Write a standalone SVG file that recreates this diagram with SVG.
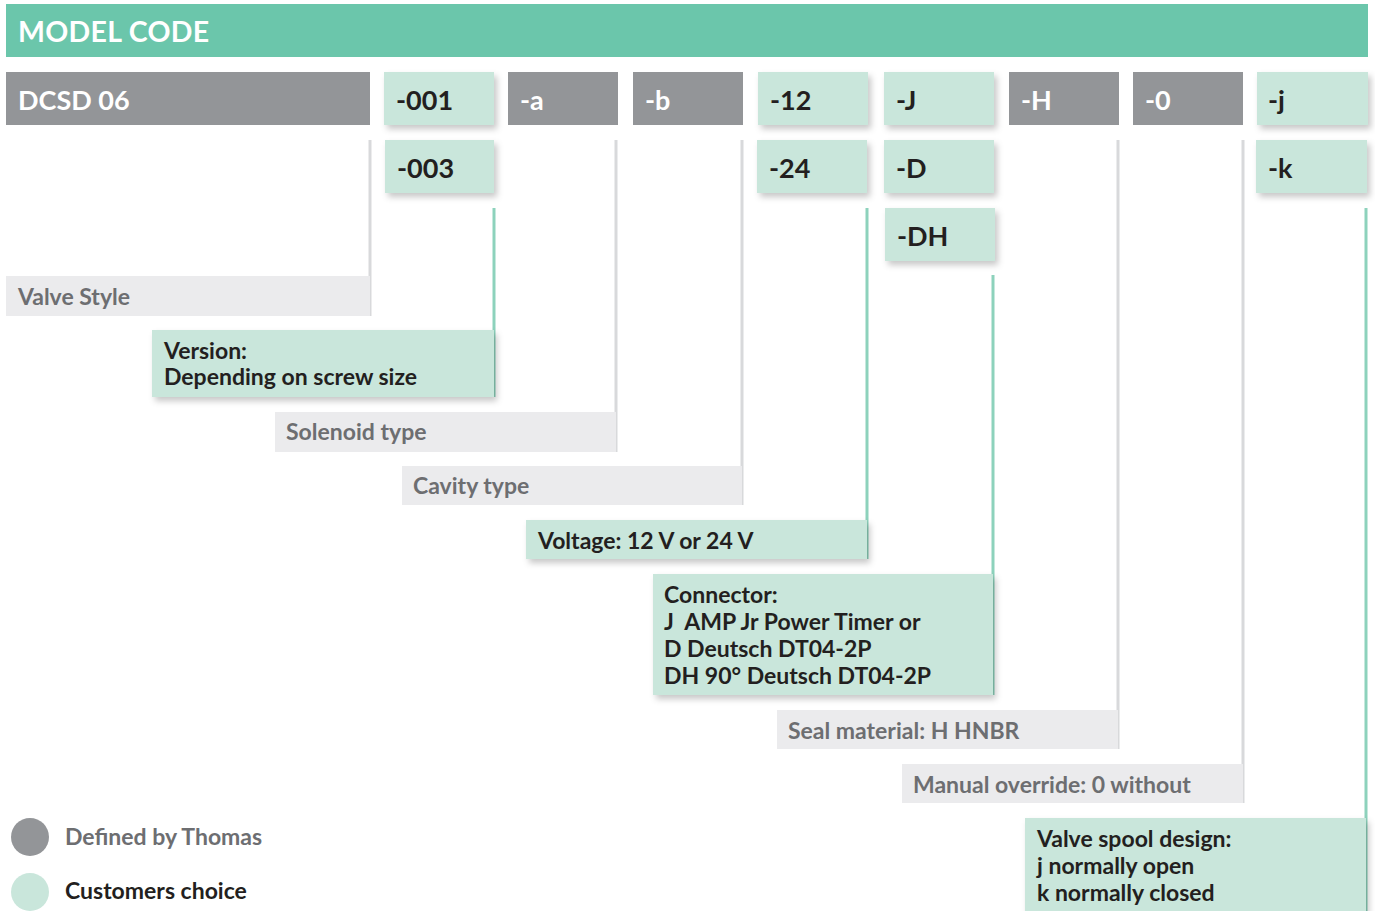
<svg xmlns="http://www.w3.org/2000/svg" width="1375" height="911" viewBox="0 0 1375 911">
<defs>
<filter id="sh" x="-10%" y="-20%" width="130%" height="160%">
<feDropShadow dx="3" dy="4" stdDeviation="3" flood-color="#000" flood-opacity="0.22"/>
</filter>
<style>
text{font-family:Lato,"Open Sans","Liberation Sans",sans-serif}
.hdr{fill:#6bc6ab}
.gbox{fill:#939598}
.cbox{fill:#c9e6db;filter:url(#sh)}
.dbox{fill:#ebebed}
.code{font-size:27px;font-weight:700}
.cw{fill:#ffffff}
.cd{fill:#231f20}
.desc{font-size:23px;font-weight:700}
.dg{fill:#6d6e71}
.dd{fill:#231f20}
.lg{stroke:#d8d9db;stroke-width:3;fill:none}
.lc{stroke:#8dd2bc;stroke-width:3;fill:none}
</style>
</defs>
<g id="header">
<rect class="hdr" x="6" y="4" width="1362" height="53"/>
<text x="18" y="42" fill="#ffffff" font-size="28.5" font-weight="700" letter-spacing="0.3">MODEL CODE</text>
</g>
<g id="connectors">
<line class="lg" x1="370" y1="140" x2="370" y2="316"/>
<line class="lc" x1="494" y1="208" x2="494" y2="397"/>
<line class="lg" x1="616" y1="140" x2="616" y2="452"/>
<line class="lg" x1="742" y1="140" x2="742" y2="505"/>
<line class="lc" x1="867" y1="208" x2="867" y2="559"/>
<line class="lc" x1="993" y1="275" x2="993" y2="695"/>
<line class="lg" x1="1118" y1="140" x2="1118" y2="749"/>
<line class="lg" x1="1243" y1="140" x2="1243" y2="803"/>
<line class="lc" x1="1366" y1="208" x2="1366" y2="911"/>
</g>
<g id="code-dcsd"><rect class="gbox" x="6" y="72" width="364" height="53"/><text class="code cw" x="18" y="110">DCSD 06</text></g>
<g id="code-001"><rect class="cbox" x="384" y="72" width="110" height="53"/><text class="code cd" x="396" y="110">-001</text></g>
<g id="code-003"><rect class="cbox" x="385" y="140" width="109" height="53"/><text class="code cd" x="397" y="178">-003</text></g>
<g id="code-a"><rect class="gbox" x="508" y="72" width="110" height="53"/><text class="code cw" x="520" y="110">-a</text></g>
<g id="code-b"><rect class="gbox" x="633" y="72" width="110" height="53"/><text class="code cw" x="645" y="110">-b</text></g>
<g id="code-12"><rect class="cbox" x="758" y="72" width="110" height="53"/><text class="code cd" x="770" y="110">-12</text></g>
<g id="code-24"><rect class="cbox" x="757" y="140" width="110" height="53"/><text class="code cd" x="769" y="178">-24</text></g>
<g id="code-J"><rect class="cbox" x="884" y="72" width="110" height="53"/><text class="code cd" x="896" y="110">-J</text></g>
<g id="code-D"><rect class="cbox" x="884" y="140" width="110" height="53"/><text class="code cd" x="896" y="178">-D</text></g>
<g id="code-DH"><rect class="cbox" x="885" y="208" width="110" height="53"/><text class="code cd" x="897" y="246">-DH</text></g>
<g id="code-H"><rect class="gbox" x="1009" y="72" width="110" height="53"/><text class="code cw" x="1021" y="110">-H</text></g>
<g id="code-0"><rect class="gbox" x="1133" y="72" width="110" height="53"/><text class="code cw" x="1145" y="110">-0</text></g>
<g id="code-j"><rect class="cbox" x="1257" y="72" width="111" height="53"/><text class="code cd" x="1268" y="110">-j</text></g>
<g id="code-k"><rect class="cbox" x="1256" y="140" width="111" height="53"/><text class="code cd" x="1268" y="178">-k</text></g>

<g id="desc-valve-style"><rect class="dbox" x="6" y="276" width="364" height="40"/><text class="desc dg" x="18" y="305">Valve Style</text></g>
<g id="desc-version"><rect class="cbox" x="152" y="330" width="342" height="67"/><text class="desc dd" x="164" y="359">Version:</text><text class="desc dd" x="164" y="385">Depending on screw size</text></g>
<g id="desc-solenoid"><rect class="dbox" x="275" y="412" width="341" height="40"/><text class="desc dg" x="286" y="440">Solenoid type</text></g>
<g id="desc-cavity"><rect class="dbox" x="402" y="466" width="340" height="39"/><text class="desc dg" x="413" y="494">Cavity type</text></g>
<g id="desc-voltage"><rect class="cbox" x="526" y="520" width="341" height="39"/><text class="desc dd" x="538" y="549">Voltage: 12 V or 24 V</text></g>
<g id="desc-connector"><rect class="cbox" x="653" y="574" width="340" height="121"/>
<text class="desc dd" x="664" y="603">Connector:</text>
<text class="desc dd" x="664" y="630" xml:space="preserve">J  AMP Jr Power Timer or</text>
<text class="desc dd" x="664" y="657">D Deutsch DT04-2P</text>
<text class="desc dd" x="664" y="684">DH 90° Deutsch DT04-2P</text></g>
<g id="desc-seal"><rect class="dbox" x="777" y="710" width="341" height="39"/><text class="desc dg" x="788" y="739">Seal material: H HNBR</text></g>
<g id="desc-manual"><rect class="dbox" x="902" y="764" width="341" height="39"/><text class="desc dg" x="913" y="793">Manual override: 0 without</text></g>
<g id="desc-spool"><rect class="cbox" x="1025" y="818" width="341" height="100"/>
<text class="desc dd" x="1037" y="847">Valve spool design:</text>
<text class="desc dd" x="1037" y="874">j normally open</text>
<text class="desc dd" x="1037" y="901">k normally closed</text></g>
<g id="legend">
<circle cx="30" cy="837" r="19" fill="#939598"/>
<text class="desc dg" x="65" y="845">Defined by Thomas</text>
<circle cx="30" cy="892" r="19" fill="#c9e6db"/>
<text class="desc dd" x="65" y="899">Customers choice</text>
</g>
</svg>
